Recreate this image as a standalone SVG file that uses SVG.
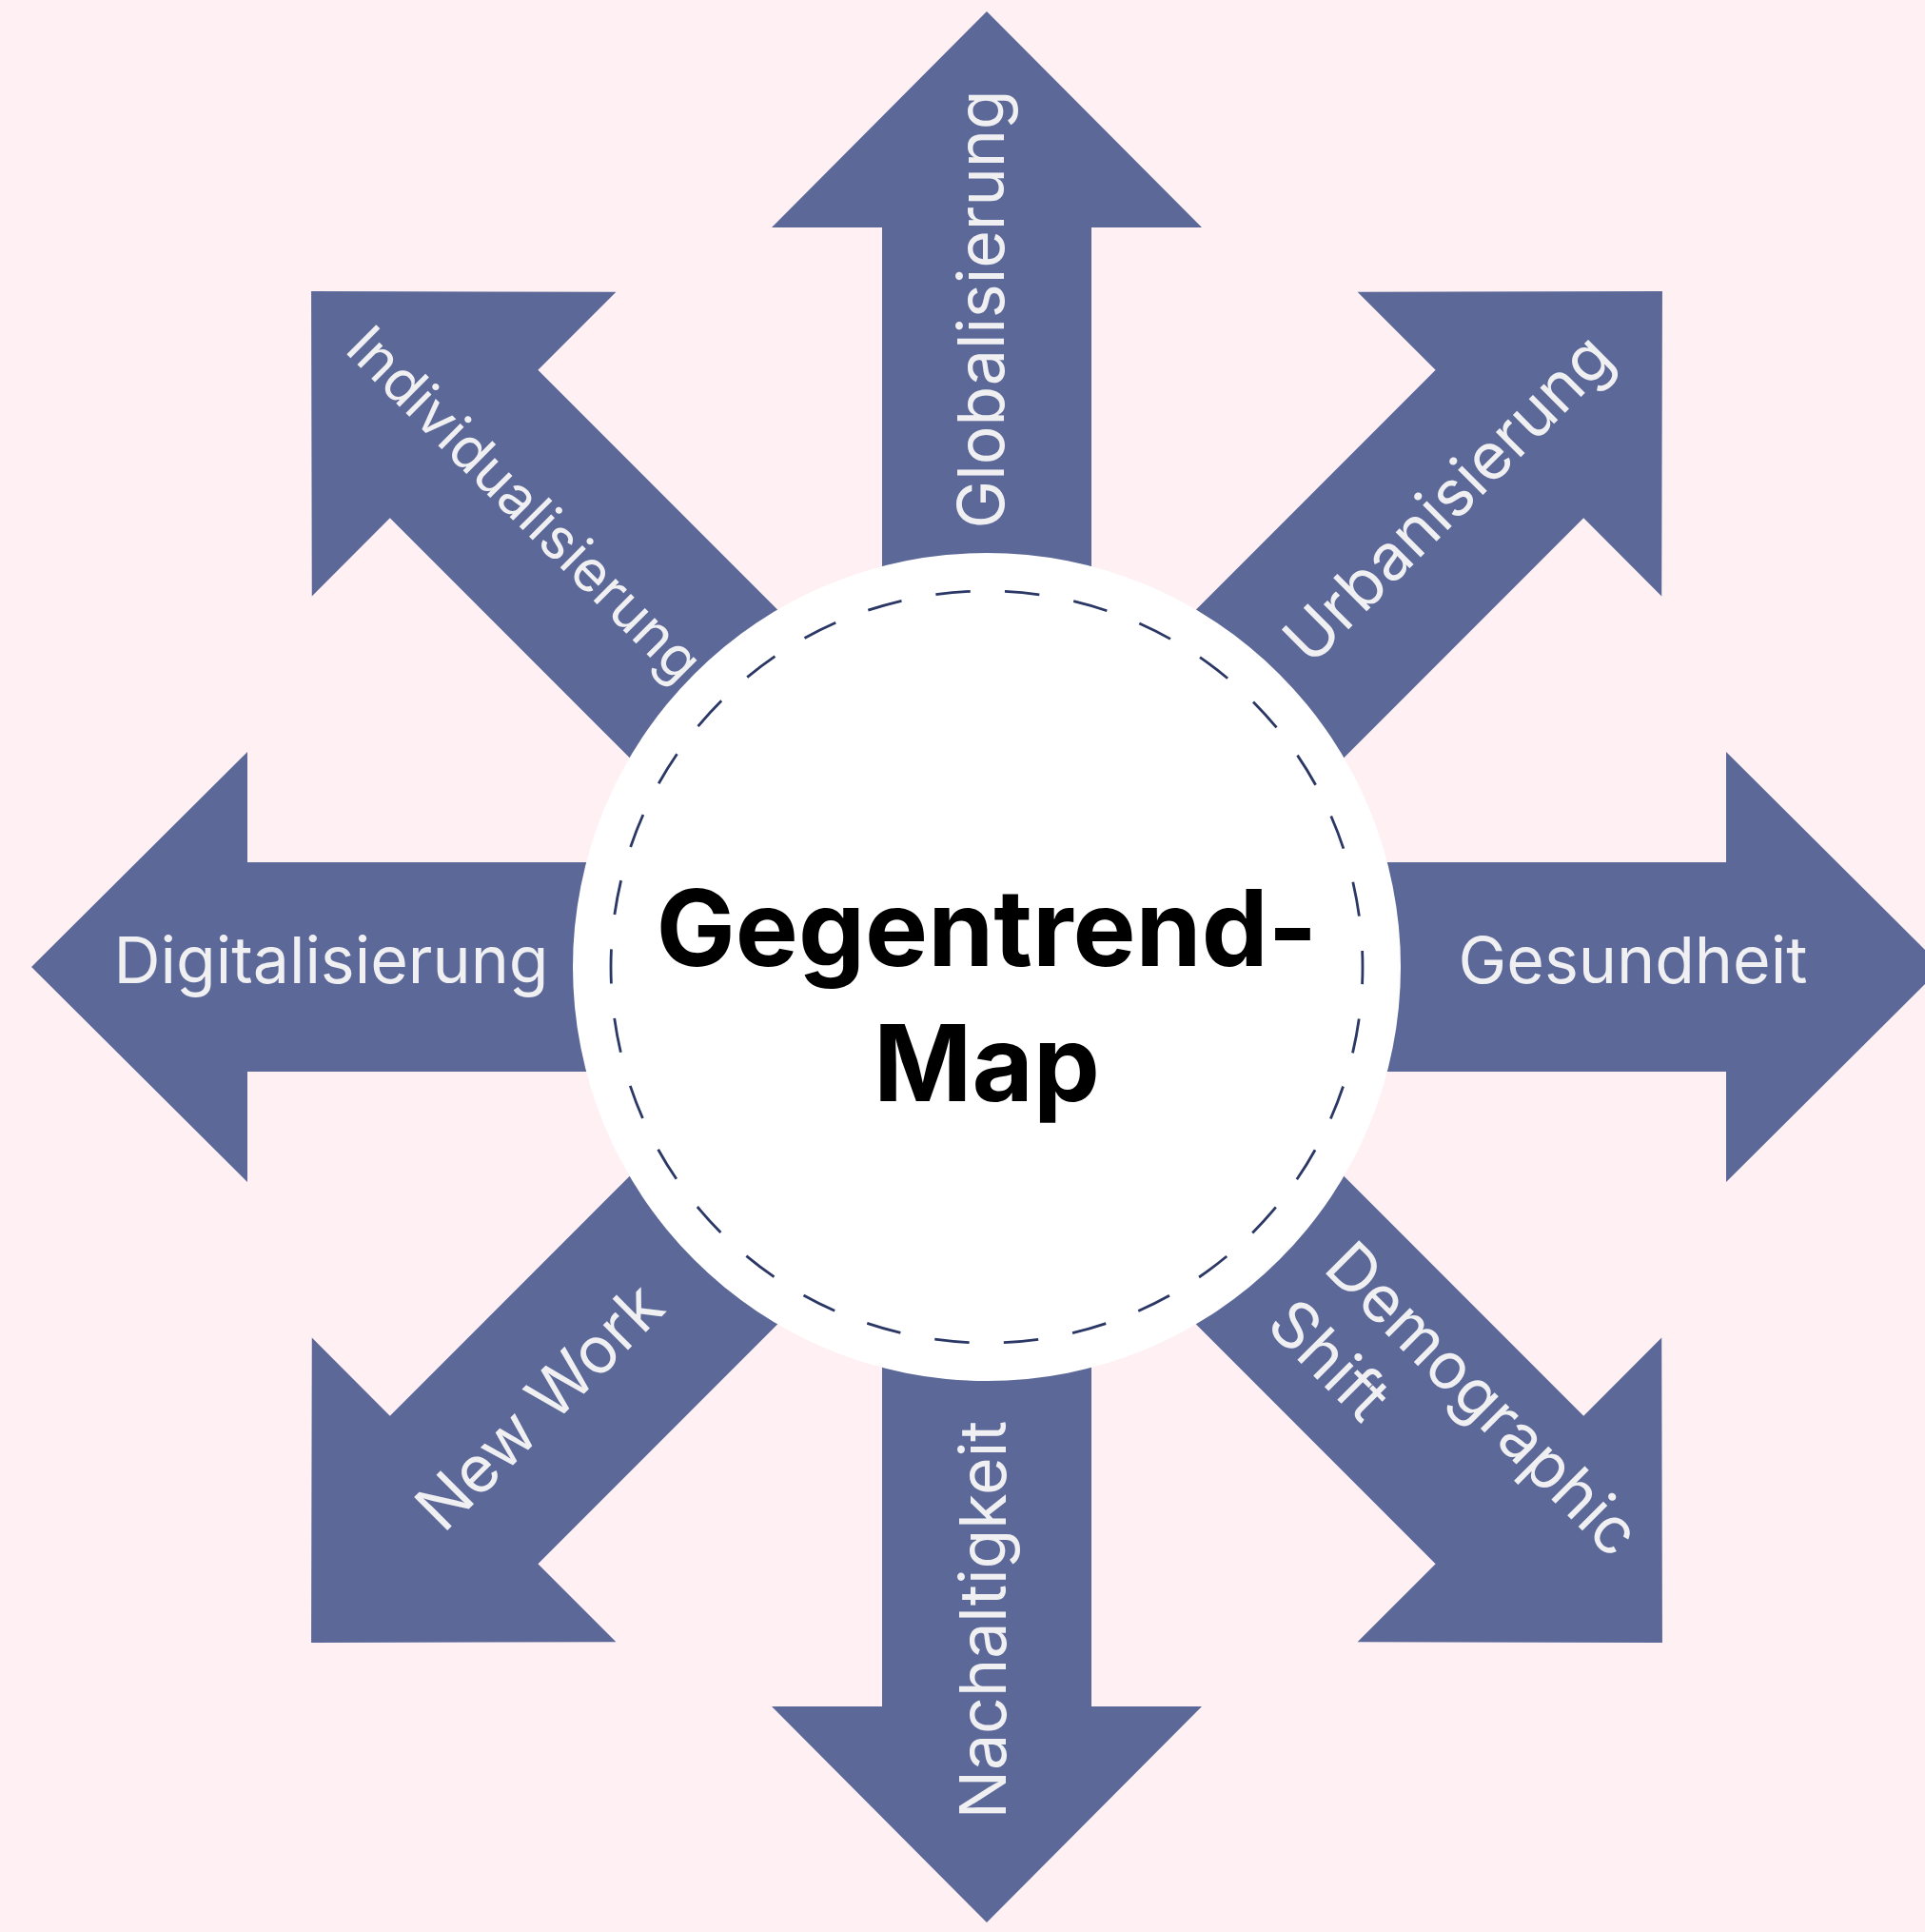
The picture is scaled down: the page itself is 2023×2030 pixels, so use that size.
<svg xmlns="http://www.w3.org/2000/svg" width="2023" height="2030" viewBox="0 0 2023 2030">
  <style>
    .arrow { fill: #5B6898; }
    .lbl { font-family: Inter, "Noto Sans", "Liberation Sans", sans-serif; font-size: 68px; fill: #F0F0F3; text-anchor: middle; }
    .lbl-small { font-size: 60px; }
    .lbl-start { text-anchor: start; }
    .title { font-family: Inter, "Noto Sans", "Liberation Sans", sans-serif; font-size: 111px; font-weight: 700; fill: #000000; text-anchor: middle; }
    .hub { fill: #FFFFFF; }
    .ring { fill: none; stroke: #2B3765; stroke-width: 2.8; stroke-dasharray: 36.5 36.5; stroke-dashoffset: 18.25; }
  </style>
  <defs>
    <polygon id="arrowShape" points="-110,0 -110,-777 -226,-777 0,-1004 226,-777 110,-777 110,0"/>
  </defs>
  <rect x="0" y="0" width="2023" height="2030" fill="#FFF0F3"/>

  <g id="arrow-globalisierung">
    <use href="#arrowShape" class="arrow" transform="translate(1037,1016) rotate(0)"/>
    <text class="lbl" transform="translate(1037,325) rotate(-90)" x="0" y="18">Globalisierung</text>
  </g>
  <g id="arrow-urbanisierung">
    <use href="#arrowShape" class="arrow" transform="translate(1037,1016) rotate(45)"/>
    <text class="lbl" transform="translate(1525.6,527.4) rotate(-45)" x="0" y="18">Urbanisierung</text>
  </g>
  <g id="arrow-gesundheit">
    <use href="#arrowShape" class="arrow" transform="translate(1037,1016) rotate(90)"/>
    <text class="lbl" transform="translate(1716,1016)" x="0" y="17">Gesundheit</text>
  </g>
  <g id="arrow-demographic-shift">
    <use href="#arrowShape" class="arrow" transform="translate(1037,1016) rotate(135)"/>
    <text class="lbl lbl-start" transform="translate(1372,1351) rotate(45)">
      <tspan x="0" y="-24">Demographic</tspan>
      <tspan x="0" y="61">Shift</tspan>
    </text>
  </g>
  <g id="arrow-nachaltigkeit">
    <use href="#arrowShape" class="arrow" transform="translate(1037,1016) rotate(180)"/>
    <text class="lbl" transform="translate(1037,1702) rotate(-90)" x="0" y="20">Nachaltigkeit</text>
  </g>
  <g id="arrow-new-work">
    <use href="#arrowShape" class="arrow" transform="translate(1037,1016) rotate(225)"/>
    <text class="lbl" transform="translate(571,1482) rotate(-45)" x="0" y="18">New Work</text>
  </g>
  <g id="arrow-digitalisierung">
    <use href="#arrowShape" class="arrow" transform="translate(1037,1016) rotate(270)"/>
    <text class="lbl" transform="translate(348,1016)" x="0" y="17">Digitalisierung</text>
  </g>
  <g id="arrow-individualisierung">
    <use href="#arrowShape" class="arrow" transform="translate(1037,1016) rotate(315)"/>
    <text class="lbl lbl-small" transform="translate(548,533) rotate(45)" x="0" y="16">Individualisierung</text>
  </g>

  <g id="connectors"></g>

  <g id="center">
    <circle class="hub" cx="1037" cy="1016" r="435"/>
    <circle class="ring" cx="1037" cy="1016" r="395"/>
    <text class="title" x="1037" y="1015">Gegentrend-</text>
    <text class="title" x="1037" y="1157">Map</text>
  </g>
</svg>
